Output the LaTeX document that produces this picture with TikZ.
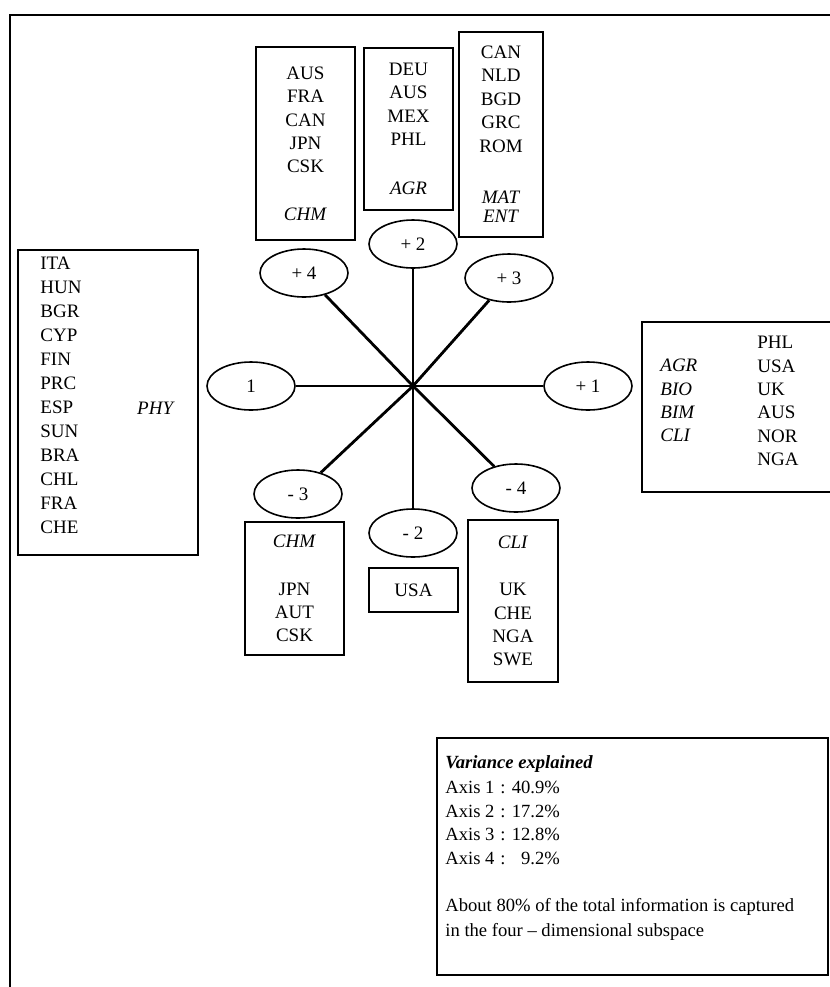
\documentclass[tikz,border=0pt]{standalone}
\usepackage{fontspec}
\setmainfont{Liberation Serif}
\usetikzlibrary{shapes.geometric, positioning}

\tikzset{
  axisnode/.style={draw, ellipse, line width=0.8pt, minimum width=44pt, minimum height=24pt, inner sep=0pt},
  listbox/.style={draw, line width=0.9pt, inner sep=0pt, align=center},
  spoke/.style={line width=1.4pt},
  flatspoke/.style={line width=0.8pt},
}

\begin{document}
\begin{tikzpicture}[x=0.5pt, y=-0.5pt, font=\fontsize{9.5}{11.7}\selectfont]
  \useasboundingbox (0,0) rectangle (830,987);
  \clip (0,0) rectangle (830,987);

  % outer frame (open at right and bottom)
  \draw[line width=1pt] (10,1000) -- (10,15) -- (850,15);

  % centre of the star
  \coordinate (o) at (413,386);

  % axis ends
  \node[axisnode] (neg1) at (251,386) {1};
  \node[axisnode] (pos1) at (588,386) {+ 1};
  \node[axisnode] (pos2) at (413,244) {+ 2};
  \node[axisnode] (pos3) at (509,278) {+ 3};
  \node[axisnode] (pos4) at (304,273) {+ 4};
  \node[axisnode] (neg2) at (413,533) {- 2};
  \node[axisnode] (neg3) at (298,494) {- 3};
  \node[axisnode] (neg4) at (516,488) {- 4};

  % spokes
  \draw[flatspoke] (o) -- (neg1);
  \draw[flatspoke] (o) -- (pos1);
  \draw[flatspoke] (o) -- (pos2);
  \draw[flatspoke] (o) -- (neg2);
  \draw[spoke] (o) -- (pos3);
  \draw[spoke] (o) -- (pos4);
  \draw[spoke] (o) -- (neg3);
  \draw[spoke] (o) -- (neg4);
  \fill (o) circle (3);

  % top boxes
  \node[listbox, minimum width=49.5pt, minimum height=96.5pt] (boxpos4) at (305.5,143.5)
    {AUS\\FRA\\CAN\\JPN\\CSK\\[12pt]\textit{CHM}};
  \node[listbox, minimum width=44.5pt, minimum height=81pt] (boxpos2) at (408.5,129)
    {DEU\\AUS\\MEX\\PHL\\[13pt]\textit{AGR}};
  \node[listbox, minimum width=42pt, minimum height=102.5pt] (boxpos3) at (501,134.5)
    {CAN\\NLD\\BGD\\GRC\\ROM\\[14pt]\textit{MAT}\\[-2pt]\textit{ENT}};

  % left box
  \node[listbox, minimum width=90pt, minimum height=152.5pt] (boxneg1) at (108,402.5) {};
  \node[anchor=west, align=left, inner sep=0pt, font=\fontsize{9.5}{12}\selectfont] (neg1list) at (40,395)
    {ITA\\HUN\\BGR\\CYP\\FIN\\PRC\\ESP\\SUN\\BRA\\CHL\\FRA\\CHE};
  \node (neg1field) at (156,408) {\textit{PHY}};

  % right box
  \node[listbox, minimum width=129pt, minimum height=85pt] (boxpos1) at (771,407) {};
  \node[anchor=west, align=left, inner sep=0pt] (pos1fields) at (660,400.5)
    {\textit{AGR}\\\textit{BIO}\\\textit{BIM}\\\textit{CLI}};
  \node[anchor=west, align=left, inner sep=0pt] (pos1list) at (757,401)
    {PHL\\USA\\UK\\AUS\\NOR\\NGA};

  % bottom boxes
  \node[listbox, minimum width=49.5pt, minimum height=66.5pt] (boxneg3) at (294.5,588.5)
    {\textit{CHM}\\[12pt]JPN\\AUT\\CSK};
  \node[listbox, minimum width=44.5pt, minimum height=22pt] (boxneg2) at (413.5,590) {USA};
  \node[listbox, minimum width=45pt, minimum height=81pt] (boxneg4) at (513,601)
    {\textit{CLI}\\[12pt]UK\\CHE\\NGA\\SWE};

  % variance explained
  \node[listbox, minimum width=195.5pt, minimum height=118.5pt] (varbox) at (632.5,856.5) {};
  \node[anchor=north west, inner sep=0pt, font=\fontsize{9.3}{11.75}\selectfont] (vartext) at (445,752)
    {\begin{tabular}{@{}p{27.5pt}@{}l@{}}
      \multicolumn{2}{@{}l@{}}{\textbf{\textit{Variance explained}}}\\[0.7pt]
      Axis 1 & : 40.9\%\\
      Axis 2 & : 17.2\%\\
      Axis 3 & : 12.8\%\\
      Axis 4 & : \phantom{4}9.2\%\\[11.7pt]
      \multicolumn{2}{@{}l@{}}{About 80\% of the total information is captured}\\[0.7pt]
      \multicolumn{2}{@{}l@{}}{in the four -- dimensional subspace}
    \end{tabular}};
\end{tikzpicture}
\end{document}
